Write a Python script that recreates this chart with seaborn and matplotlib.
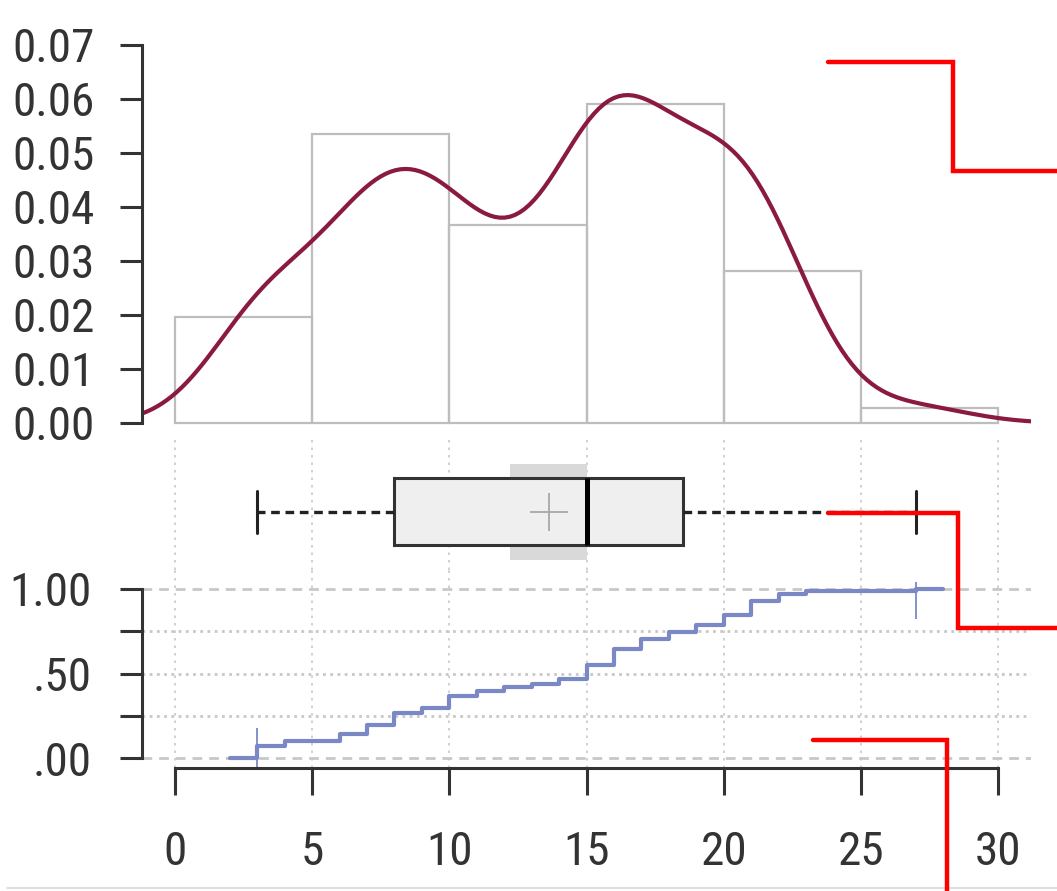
import numpy as np
import matplotlib
matplotlib.use("Agg")
import matplotlib.pyplot as plt
from matplotlib import font_manager as fm
import seaborn as sns
from matplotlib.lines import Line2D
from matplotlib.patches import Rectangle

# ---- data ----
values = [3, 4, 6, 7, 8, 9, 10, 11, 12, 13, 14, 15, 16, 17, 18, 19, 20, 21, 22, 23, 27]
counts = [5, 2, 3, 4, 5, 2, 5, 2, 2, 1, 2, 6, 7, 4, 3, 3, 4, 6, 3, 1, 1]
bin_edges = [0, 5, 10, 15, 20, 25, 30]
x_ticks = [0, 5, 10, 15, 20, 25, 30]
density_ticks = [0.00, 0.01, 0.02, 0.03, 0.04, 0.05, 0.06, 0.07]
density_labels = ["0.00", "0.01", "0.02", "0.03", "0.04", "0.05", "0.06", "0.07"]
ecdf_ticks = [0.0, 0.25, 0.5, 0.75, 1.0]
ecdf_labels = [".00", "", ".50", "", "1.00"]

data = np.repeat(values, counts).astype(float)

# ---- style ----
sns.set_theme(style="white")

# pick a narrow / condensed sans face if one is installed
entries = fm.fontManager.ttflist
names = {f.name for f in entries}
font_family, font_stretch, LABEL_SIZE = None, "normal", 30
for cand in ["Liberation Sans Narrow", "Arial Narrow", "Roboto Condensed",
             "Open Sans Condensed", "Noto Sans Condensed", "DejaVu Sans Condensed"]:
    if cand in names:
        font_family, LABEL_SIZE = cand, 34
        break
if font_family is None:
    for pref in ["Liberation Sans", "Roboto", "Noto Sans", "Open Sans", "DejaVu Sans"]:
        cond = [f for f in entries if f.name == pref and str(f.stretch) in
                ("condensed", "semi-condensed", "extra-condensed")]
        if cond:
            font_family, font_stretch, LABEL_SIZE = pref, str(cond[0].stretch), 33
            break
if font_family is None:
    font_family = "Liberation Sans"

plt.rcParams['font.family'] = [font_family, 'Liberation Sans', 'DejaVu Sans']
plt.rcParams['font.stretch'] = font_stretch

KDE_COLOR = "#8b1a3f"
ECDF_COLOR = "#7b88c6"
AXIS_COLOR = "#333333"
GRID_COLOR = "#c8c8c8"

W, H = 1057, 891
fig = plt.figure(figsize=(W / 100, H / 100), dpi=100)


def px_axes(left, top, right, bottom):
    return fig.add_axes([left / W, 1 - bottom / H, (right - left) / W, (bottom - top) / H])


ax_h = px_axes(142, 30, 1031, 438)
ax_b = px_axes(142, 438, 1031, 570)
ax_e = px_axes(142, 570, 1031, 768)
xlim = (-1.2, 31.2)

# ---- histogram + density ----
sns.histplot(x=data, bins=np.array(bin_edges, dtype=float) + 1e-6, stat="density",
             fill=False, color="#bdbdbd", linewidth=1.6, ax=ax_h)
sns.kdeplot(x=data, bw_adjust=0.77, cut=3, color=KDE_COLOR, linewidth=3, ax=ax_h)
ax_h.set_xlim(*xlim)
ax_h.set_ylim(-15 / 5400, 0.07 + 15 / 5400)
for s in ["top", "right", "bottom"]:
    ax_h.spines[s].set_visible(False)
ax_h.spines["left"].set_bounds(0, 0.07)
ax_h.spines["left"].set_color(AXIS_COLOR)
ax_h.spines["left"].set_linewidth(2.2)
ax_h.set_xticks([])
ax_h.set_yticks(density_ticks, density_labels)
ax_h.tick_params(axis="y", left=True, length=16, width=2.2, color=AXIS_COLOR,
                 labelsize=LABEL_SIZE, pad=18, labelcolor=AXIS_COLOR)
ax_h.set_xlabel("")
ax_h.set_ylabel("")
ax_h.patch.set_alpha(0)

# ---- boxplot ----
mean = data.mean()
half = 1.96 * data.std(ddof=1) / np.sqrt(len(data))
ax_b.add_patch(Rectangle((mean - half, -0.358), 2 * half, 0.716,
                         facecolor="#d9d9d9", edgecolor="none", zorder=1.5))
sns.boxplot(x=data, ax=ax_b, orient="h", width=0.5, whis=(0, 100),
            color="#efefef", linecolor=AXIS_COLOR, linewidth=2.2, showfliers=False,
            showmeans=True,
            meanprops=dict(marker="+", markersize=28, markeredgecolor="#a8a8a8",
                           markeredgewidth=1.3),
            medianprops=dict(color="black", linewidth=3.6),
            whiskerprops=dict(linestyle=(0, (2.6, 1.7)), linewidth=2.4, color="#222222"),
            capprops=dict(linewidth=2.2, color="#222222"),
            capwidths=0.31)
ax_b.set_xlim(*xlim)
ax_b.set_ylim(0.433, -0.552)
for s in ax_b.spines.values():
    s.set_visible(False)
ax_b.set_xticks(x_ticks)
ax_b.set_yticks([])
ax_b.tick_params(bottom=False, labelbottom=False, left=False, labelleft=False)
ax_b.grid(axis="x", linestyle=(0, (1.5, 3)), color=GRID_COLOR, linewidth=1.2)
ax_b.set_axisbelow(True)
ax_b.set_xlabel("")
ax_b.patch.set_alpha(0)

# ---- ECDF ----
sns.ecdfplot(x=data, ax=ax_e, color=ECDF_COLOR, linewidth=3)
line = ax_e.lines[-1]
xs = np.asarray(line.get_xdata(), dtype=float)
ys = np.asarray(line.get_ydata(), dtype=float)
xs[0] = data.min() - 1
xs = np.r_[xs, data.max() + 1]
ys = np.r_[ys, 1.0]
line.set_data(xs, ys)
ax_e.vlines(data.min(), -0.06, 0.18, color=ECDF_COLOR, linewidth=1.3)
ax_e.vlines(data.max(), 0.82, 1.04, color=ECDF_COLOR, linewidth=1.3)
for t in ecdf_ticks:
    if t in (0.0, 1.0):
        ax_e.axhline(t, color=GRID_COLOR, linewidth=2, linestyle=(0, (3.5, 2.5)), zorder=0.5)
    else:
        ax_e.axhline(t, color=GRID_COLOR, linewidth=2, linestyle=(0, (1, 1.6)), zorder=0.5)
ax_e.set_xlim(*xlim)
ax_e.set_ylim(-10 / 169, 1 + 19 / 169)
ax_e.spines["top"].set_visible(False)
ax_e.spines["right"].set_visible(False)
ax_e.spines["left"].set_bounds(0, 1)
ax_e.spines["bottom"].set_bounds(0, 30)
for s in ["left", "bottom"]:
    ax_e.spines[s].set_color(AXIS_COLOR)
    ax_e.spines[s].set_linewidth(2.2)
ax_e.set_xticks(x_ticks, [str(v) for v in x_ticks])
ax_e.set_yticks(ecdf_ticks, ecdf_labels)
ax_e.tick_params(axis="x", bottom=True, length=19.5, width=2.2, color=AXIS_COLOR,
                 labelsize=LABEL_SIZE, pad=25, labelcolor=AXIS_COLOR)
ax_e.tick_params(axis="y", left=True, length=16, width=2.2, color=AXIS_COLOR,
                 labelsize=LABEL_SIZE, pad=20, labelcolor=AXIS_COLOR)
ax_e.grid(axis="x", linestyle=(0, (1.5, 3)), color=GRID_COLOR, linewidth=1.2)
ax_e.set_axisbelow(True)
ax_e.set_xlabel("")
ax_e.set_ylabel("")
ax_e.patch.set_alpha(0)

# ---- red overlay lines and frame ----
paths = [
    [(828, 62), (953, 62), (953, 171), (1057, 171)],
    [(828, 513), (958, 513), (958, 628), (1057, 628)],
    [(813, 740), (947, 740), (947, 891)],
]
for p in paths:
    px = [pt[0] / W for pt in p]
    py = [1 - pt[1] / H for pt in p]
    fig.add_artist(Line2D(px, py, transform=fig.transFigure, color="#ff0000",
                          linewidth=3.2, solid_joinstyle="miter", zorder=10))
fig.add_artist(Line2D([7 / W, 1], [1 - 888 / H, 1 - 888 / H], transform=fig.transFigure,
                      color="#d8d8d8", linewidth=1.2))

fig.savefig("out.png", dpi=100)
